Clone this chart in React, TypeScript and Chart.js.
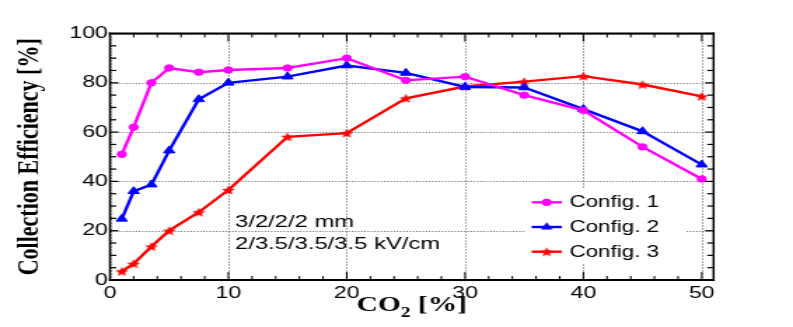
import React, { useEffect, useRef } from "react";
import { Chart, registerables } from "chart.js";

Chart.register(...registerables);

// ---- data ----
const co2Percent = [1, 2, 3.5, 5, 7.5, 10, 15, 20, 25, 30, 35, 40, 45, 50];
const config1 = [51, 62, 80, 86, 84.3, 85.2, 86, 90, 81, 82.5, 75, 68.8, 54, 41];
const config2 = [24.8, 36, 38.7, 52.5, 73.3, 80, 82.5, 87, 84, 78.3, 78.1, 69.3, 60.3, 46.8];
const config3 = [3.5, 6.6, 13.6, 20, 27.5, 36.5, 58.1, 59.6, 73.7, 78.5, 80.5, 82.7, 79.3, 74.5];
const seriesNames = ["Config. 1", "Config. 2", "Config. 3"];
const seriesColors = ["#ff00ff", "#0000ff", "#ff0000"];
const xMajorTicks = [0, 10, 20, 30, 40, 50];
const yMajorTicks = [0, 20, 40, 60, 80, 100];
const xMinorStep = 2;
const yMinorStep = 5;
const annotationLines = ["3/2/2/2 mm", "2/3.5/3.5/3.5 kV/cm"];
const xTitleMain = "CO";
const xTitleSub = "2";
const xTitleRest = " [%]";
const yTitle = "Collection Efficiency [%]";

// ---- geometry (internal canvas, stretched horizontally by CSS) ----
const CW = 566;
const CH = 327;
const SANS = "Liberation Sans";
const SERIF = "Liberation Serif";

function makeStar(color: string, size: number) {
  const c = document.createElement("canvas");
  c.width = size;
  c.height = size;
  const ctx = c.getContext("2d")!;
  const cx = size / 2;
  const cy = size / 2 + size * 0.05;
  const R = size / 2;
  const r = R * 0.45;
  ctx.beginPath();
  for (let i = 0; i < 10; i++) {
    const ang = -Math.PI / 2 + (i * Math.PI) / 5;
    const rad = i % 2 === 0 ? R : r;
    ctx.lineTo(cx + rad * Math.cos(ang), cy + rad * Math.sin(ang));
  }
  ctx.closePath();
  ctx.fillStyle = color;
  ctx.fill();
  return c;
}

function drawMarker(ctx: CanvasRenderingContext2D, kind: number, x: number, y: number, color: string, star: HTMLCanvasElement) {
  ctx.fillStyle = color;
  if (kind === 0) {
    ctx.beginPath();
    ctx.arc(x, y, 3.6, 0, Math.PI * 2);
    ctx.fill();
  } else if (kind === 1) {
    const r = 4.8;
    ctx.beginPath();
    ctx.moveTo(x, y - r);
    ctx.lineTo(x + r * Math.sin(Math.PI / 3), y + r * 0.5);
    ctx.lineTo(x - r * Math.sin(Math.PI / 3), y + r * 0.5);
    ctx.closePath();
    ctx.fill();
  } else {
    ctx.drawImage(star, x - star.width / 2, y - star.height / 2);
  }
}

const layerStyle: React.CSSProperties = {
  position: "fixed",
  left: 0,
  top: 0,
  width: "793px",
  height: "327px",
  pointerEvents: "none",
};

export default function App() {
  const gridRef = useRef<HTMLCanvasElement>(null);
  const ref = useRef<HTMLCanvasElement>(null);
  const frameRef = useRef<HTMLCanvasElement>(null);

  useEffect(() => {
    const canvas = ref.current!;
    const star = makeStar(seriesColors[2], 10);

    const textPlugin = {
      id: "rootText",
      afterDraw(chart: any) {
        const ctx = chart.ctx;
        const a = chart.chartArea;
        ctx.save();

        // annotation text
        ctx.fillStyle = "#000";
        ctx.font = `17px "${SANS}"`;
        ctx.textAlign = "left";
        ctx.textBaseline = "alphabetic";
        ctx.fillText(annotationLines[0], 167.7, 227);
        ctx.fillText(annotationLines[1], 167.7, 249.3);

        // legend (white box hides the grid layer beneath)
        ctx.fillStyle = "#fff";
        ctx.fillRect(375, 188, 115, 76);
        const rows = [202.3, 227, 251.7];
        for (let i = 0; i < 3; i++) {
          ctx.fillStyle = seriesColors[i];
          ctx.fillRect(379.5, rows[i] - 1.2, 21.5, 2.4);
          drawMarker(ctx, i, 390.2, rows[i], seriesColors[i], star);
          ctx.fillStyle = "#000";
          ctx.font = `16px "${SANS}"`;
          ctx.textBaseline = "middle";
          ctx.fillText(seriesNames[i], 406.4, rows[i] + 0.5);
        }

        // x-axis title with subscript
        const mainFont = `bold 21px "${SERIF}"`;
        const subFont = `bold 14px "${SERIF}"`;
        ctx.font = mainFont;
        const w1 = ctx.measureText(xTitleMain).width;
        const w3 = ctx.measureText(xTitleRest).width;
        ctx.font = subFont;
        const w2 = ctx.measureText(xTitleSub).width;
        let tx = (a.left + a.right) / 2 - (w1 + w2 + w3) / 2;
        const base = 311;
        ctx.fillStyle = "#000";
        ctx.textAlign = "left";
        ctx.textBaseline = "alphabetic";
        ctx.font = mainFont;
        ctx.fillText(xTitleMain, tx, base);
        tx += w1;
        ctx.font = subFont;
        ctx.fillText(xTitleSub, tx, base + 6);
        tx += w2;
        ctx.font = mainFont;
        ctx.fillText(xTitleRest, tx, base);
        ctx.restore();
      },
    };

    const datasets = [config1, config2, config3].map((vals, i) => ({
      label: seriesNames[i],
      data: co2Percent.map((xv, j) => ({ x: xv, y: vals[j] })),
      borderColor: seriesColors[i],
      backgroundColor: seriesColors[i],
      pointBackgroundColor: seriesColors[i],
      pointBorderColor: seriesColors[i],
      pointBorderWidth: 1,
      borderWidth: 2.4,
      pointRadius: i === 0 ? 3.2 : 4.6,
      pointStyle: i === 0 ? "circle" : i === 1 ? "triangle" : (star as any),
      tension: 0,
      fill: false,
    }));

    const chart = new Chart(canvas, {
      type: "line",
      data: { datasets } as any,
      options: {
        animation: false,
        responsive: false,
        devicePixelRatio: 1,
        layout: { padding: { left: 0, top: 33.5, right: CW - 509.3, bottom: 0 } },
        plugins: {
          legend: { display: false },
          tooltip: { enabled: false },
        },
        scales: {
          x: {
            type: "linear",
            min: 0,
            max: 51,
            grid: { display: false, drawTicks: false },
            border: { display: false },
            afterBuildTicks: (s: any) => {
              s.ticks = xMajorTicks.map((v) => ({ value: v }));
            },
            afterFit: (s: any) => {
              s.height = CH - 280;
            },
            ticks: {
              font: { family: SANS, size: 16.5 },
              color: "#000",
              padding: 4,
              maxRotation: 0,
              autoSkip: false,
            },
          },
          y: {
            type: "linear",
            min: 0,
            max: 100,
            grid: { display: false, drawTicks: false },
            border: { display: false },
            afterBuildTicks: (s: any) => {
              s.ticks = yMajorTicks.map((v) => ({ value: v }));
            },
            afterFit: (s: any) => {
              s.width = 78.5;
            },
            ticks: {
              font: { family: SANS, size: 16.5 },
              color: "#000",
              padding: 1.5,
              autoSkip: false,
            },
            title: {
              display: true,
              text: yTitle,
              font: { family: SERIF, size: 22, weight: "bold" },
              color: "#000",
              padding: { top: 8, bottom: 0 },
            },
          },
        },
      } as any,
      plugins: [textPlugin],
    });

    // ---- grid layer (beneath the chart) and frame layer (above), positioned from the chart's scales ----
    const a = chart.chartArea;
    const xs: any = chart.scales.x;
    const ys: any = chart.scales.y;

    const gc = gridRef.current!.getContext("2d")!;
    gc.clearRect(0, 0, CW, CH);
    gc.fillStyle = "rgba(0,0,0,0.72)";
    for (let i = 0; i < xMajorTicks.length; i++) {
      const px = Math.round(xs.getPixelForValue(xMajorTicks[i]));
      for (let yy = a.top; yy < a.bottom; yy += 3) gc.fillRect(px, yy, 1, 1);
    }
    for (let i = 0; i < yMajorTicks.length; i++) {
      const py = Math.round(ys.getPixelForValue(yMajorTicks[i]));
      for (let xx = a.left; xx < a.right; xx += 2.3) gc.fillRect(xx, py, 0.8, 1);
    }

    const fc = frameRef.current!.getContext("2d")!;
    fc.clearRect(0, 0, CW, CH);
    fc.fillStyle = "#000";
    const w = a.right - a.left;
    const h = a.bottom - a.top;
    fc.fillRect(a.left - 0.75, a.top - 1, 1.5, h + 2);
    fc.fillRect(a.right - 0.75, a.top - 1, 1.5, h + 2);
    fc.fillRect(a.left - 0.75, a.top - 1, w + 1.5, 2);
    fc.fillRect(a.left - 0.75, a.bottom - 1, w + 1.5, 2);
    for (let v = 0; v <= 50; v += xMinorStep) {
      const px = xs.getPixelForValue(v);
      const len = v % 10 === 0 ? 8 : 4;
      fc.fillRect(px - 0.5, a.bottom - len, 1, len);
      fc.fillRect(px - 0.5, a.top, 1, len);
    }
    for (let v = 0; v <= 100; v += yMinorStep) {
      const py = ys.getPixelForValue(v);
      const len = v % 20 === 0 ? 6 : 4.5;
      fc.fillRect(a.left, py - 0.6, len, 1.2);
      fc.fillRect(a.right - len, py - 0.6, len, 1.2);
    }

    return () => chart.destroy();
  }, []);

  return (
    <>
      <canvas ref={gridRef} width={CW} height={CH} style={layerStyle} />
      <canvas ref={ref} width={CW} height={CH} style={layerStyle} />
      <canvas ref={frameRef} width={CW} height={CH} style={layerStyle} />
    </>
  );
}
